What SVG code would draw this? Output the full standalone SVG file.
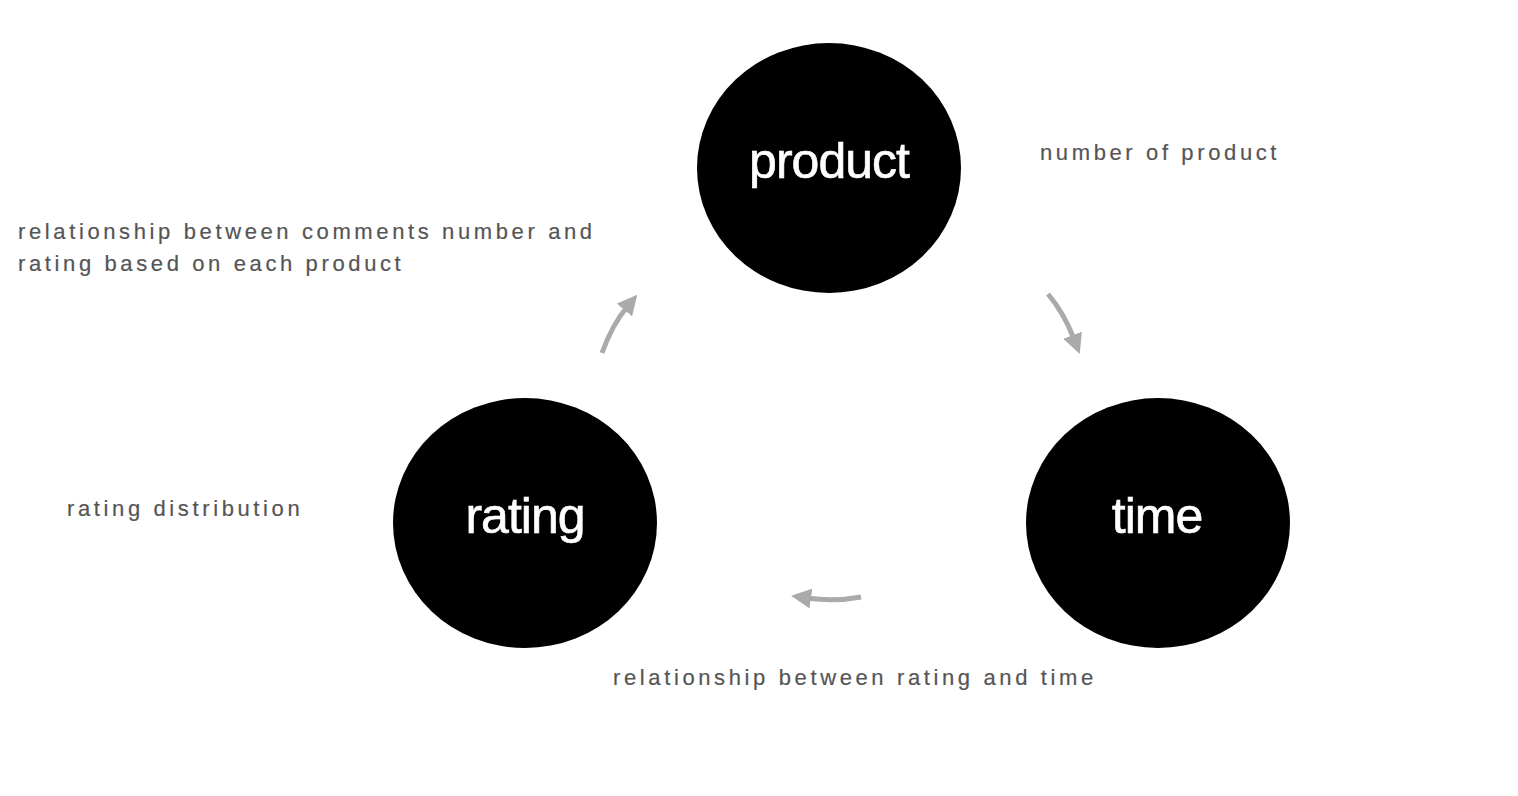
<svg xmlns="http://www.w3.org/2000/svg" width="1518" height="796" viewBox="0 0 1518 796">
<style>
.node{fill:#000}
.nt{fill:#fff;stroke:#fff;stroke-width:0.6;font-family:"Liberation Sans",Arial,sans-serif;font-size:50px;text-anchor:middle;letter-spacing:-1px}
.lbl{fill:#555;stroke:#555;stroke-width:0.2;font-family:"Liberation Sans",Arial,sans-serif;font-size:22px;letter-spacing:3.62px}
.conn{fill:none;stroke:#aaa;stroke-width:5;marker-end:url(#ah)}
</style>
<defs>
<marker id="ah" markerUnits="userSpaceOnUse" markerWidth="20" markerHeight="20" refX="4" refY="10" orient="auto">
<path d="M0,0 L20,10 L0,20 Z" fill="#aaa"/>
</marker>
</defs>
<rect width="1518" height="796" fill="#fff"/>
<g id="connectors">
<path class="conn" d="M602,353 Q612,325 627,307"/>
<path class="conn" d="M1048,294 Q1064,313 1074,339"/>
<path class="conn" d="M861,597 Q835,602 807,598"/>
</g>
<g id="product"><ellipse class="node" cx="829" cy="168" rx="132" ry="125"/><text class="nt" x="829" y="178">product</text></g>
<g id="rating"><ellipse class="node" cx="525" cy="523" rx="132" ry="125"/><text class="nt" x="525" y="533">rating</text></g>
<g id="time"><ellipse class="node" cx="1158" cy="523" rx="132" ry="125"/><text class="nt" x="1157" y="533">time</text></g>
<g id="labels">
<text class="lbl" x="1040" y="160">number of product</text>
<text class="lbl" x="18" y="239">relationship between comments number and</text>
<text class="lbl" x="18" y="271">rating based on each product</text>
<text class="lbl" x="67" y="516">rating distribution</text>
<text class="lbl" x="613" y="685">relationship between rating and time</text>
</g>
</svg>
